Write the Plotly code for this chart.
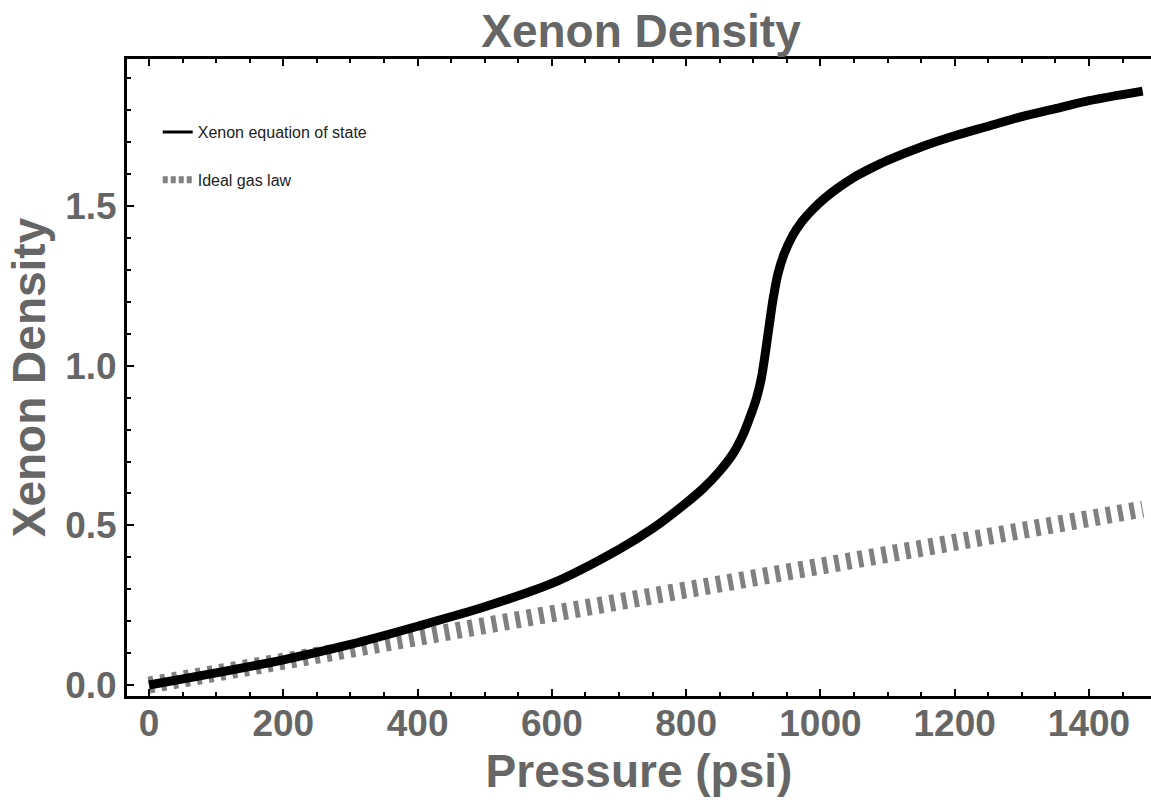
import plotly.graph_objects as go

# Pressure (psi) and density (g/cm^3) along the xenon equation of state
eos_pressure = [0, 100, 200, 300, 400, 500, 600, 700, 750, 800, 825, 850, 870,
                885, 897, 905, 912, 918, 924, 930, 937, 946, 958, 972, 988,
                1005, 1025, 1050, 1075, 1100, 1150, 1200, 1250, 1300, 1350,
                1400, 1480]
eos_density = [0.0, 0.038, 0.079, 0.127, 0.184, 0.245, 0.318, 0.425, 0.49,
               0.57, 0.615, 0.67, 0.725, 0.785, 0.85, 0.90, 0.96, 1.04, 1.13,
               1.215, 1.29, 1.35, 1.405, 1.45, 1.488, 1.522, 1.555, 1.59,
               1.618, 1.643, 1.685, 1.72, 1.75, 1.78, 1.805, 1.83, 1.86]

# Ideal gas law for comparison
ideal_pressure = [0, 200, 400, 600, 800, 1000, 1200, 1400, 1480]
ideal_density = [0.0, 0.074, 0.149, 0.223, 0.298, 0.372, 0.446, 0.521, 0.551]

x_ticks = [0, 200, 400, 600, 800, 1000, 1200, 1400]
y_ticks = [0.0, 0.5, 1.0, 1.5]

FONT = "Liberation Sans, Arial, sans-serif"
LABEL_GRAY = "#666666"
DASH_GRAY = "#808080"

fig = go.Figure()

# Plotted curves (legend entries drawn by thinner proxies below)
fig.add_trace(go.Scatter(
    x=ideal_pressure, y=ideal_density, mode="lines", showlegend=False,
    line=dict(color=DASH_GRAY, width=17, dash="5px,7px"), hoverinfo="skip"))
fig.add_trace(go.Scatter(
    x=eos_pressure, y=eos_density, mode="lines", showlegend=False,
    line=dict(color="black", width=9, shape="spline", smoothing=0.8)))

# Legend entries
fig.add_trace(go.Scatter(
    x=[None], y=[None], mode="lines", name="Xenon equation of state",
    legendgroup="a", line=dict(color="black", width=3)))
fig.add_trace(go.Scatter(
    x=[None], y=[None], mode="lines", name="Ideal gas law",
    legendgroup="b", line=dict(color=DASH_GRAY, width=7, dash="5px,3px")))

axis_common = dict(
    showgrid=False, zeroline=False,
    ticks="inside", tickcolor="black", tickwidth=2, ticklen=7,
    showline=True, linecolor="black", linewidth=3,
    tickfont=dict(family=FONT, size=37, color=LABEL_GRAY, weight="bold"),
)

fig.update_layout(
    width=1151, height=808, autosize=False,
    paper_bgcolor="white", plot_bgcolor="white",
    margin=dict(l=127, r=0, t=59, b=112),
    title=dict(text="Xenon Density", x=641 / 1151, xref="container", xanchor="center",
               y=1 - 31 / 808, yref="container", yanchor="middle",
               font=dict(family=FONT, size=46, color=LABEL_GRAY, weight="bold")),
    xaxis=dict(
        axis_common, range=[-32.8, 1492.4], tickvals=x_ticks,
        ticktext=[str(v) for v in x_ticks], mirror="ticks", ticklabelstandoff=-7,
        minor=dict(dtick=50, ticks="inside", ticklen=4, tickwidth=2, tickcolor="black"),
        title=dict(text="Pressure (psi)", standoff=12,
                   font=dict(family=FONT, size=46, color=LABEL_GRAY, weight="bold"))),
    yaxis=dict(
        axis_common, range=[-0.0344, 1.9605], tickvals=y_ticks,
        ticktext=[f"{v:.1f}" for v in y_ticks], mirror=False,
        minor=dict(dtick=0.1, ticks="inside", ticklen=4, tickwidth=2, tickcolor="black"),
        title=dict(text="Xenon Density", standoff=6,
                   font=dict(family=FONT, size=46, color=LABEL_GRAY, weight="bold"))),
    yaxis2=dict(
        overlaying="y", side="right", matches="y", range=[-0.0344, 1.9605],
        showgrid=False, zeroline=False, showline=False, showticklabels=False,
        tickvals=y_ticks, ticks="inside", ticklen=3, tickwidth=2, tickcolor="black"),
    legend=dict(x=0.03, y=0.912, xanchor="left", yanchor="top",
                bgcolor="rgba(0,0,0,0)", tracegroupgap=24,
                font=dict(family=FONT, size=16, color="#222222")),
)

fig.write_html("out.html")
